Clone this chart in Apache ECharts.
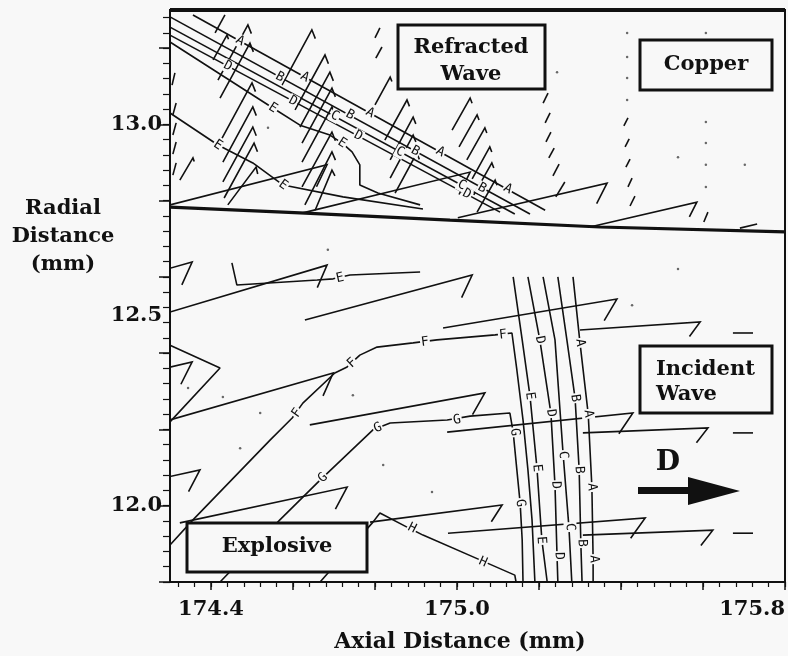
<!DOCTYPE html>
<html><head><meta charset="utf-8">
<script src="https://cdn.jsdelivr.net/npm/echarts@6/dist/echarts.min.js"></script>
<style>html,body{margin:0;padding:0;background:#f8f8f8}#c{width:788px;height:656px}</style>
</head><body><div id="c"></div>
<script>
// ---------- axis ticks / labels ----------
const xMajorTicks = [174.4,174.6,174.8,175.0,175.2,175.4,175.6,175.8];
const xMinorTicks = [174.32,174.36,174.40,174.44,174.48,174.52,174.56,174.60,174.64,174.68,174.72,174.76,174.80,174.84,174.88,174.92,174.96,175.00,175.04,175.08,175.12,175.16,175.20,175.24,175.28,175.32,175.36,175.40,175.44,175.48,175.52,175.56,175.60,175.64,175.68,175.72,175.76,175.80];
const xLabelValues = [174.4,175.0,175.8];
const yMajorTicks = [11.8,12.0,12.2,12.4,12.6,12.8,13.0,13.2];
const yMinorTicks = [11.80,11.84,11.88,11.92,11.96,12.00,12.04,12.08,12.12,12.16,12.20,12.24,12.28,12.32,12.36,12.40,12.44,12.48,12.52,12.56,12.60,12.64,12.68,12.72,12.76,12.80,12.84,12.88,12.92,12.96,13.00,13.04,13.08,13.12,13.16,13.20,13.24,13.28];
const yLabelValues = [12.0,12.5,13.0];

// ---------- copper / explosive interface ----------
const interfaceLine = [[174.300,12.783],[174.617,12.768],[174.983,12.749],[175.349,12.731],[175.800,12.718]];

// ---------- refracted wave contours (copper) ----------
const upperA = [[174.356,13.287],[175.215,12.775]];
const upperB = [[174.300,13.282],[175.178,12.765]];
const upperC = [[174.300,13.255],[175.141,12.765]];
const upperD = [[174.300,13.234],[175.105,12.770]];
const upperE = [[174.300,13.216],[174.551,13.043],[174.617,12.998],[174.690,12.972],[174.720,12.951],[174.744,12.928],[174.763,12.894],[174.763,12.841],[174.807,12.820],[174.910,12.789]];
const upperE2 = [[174.300,13.030],[174.417,12.946],[174.502,12.899],[174.576,12.841],[174.722,12.810],[174.917,12.778]];

// ---------- explosive contours ----------
const lowerE = [[174.451,12.637],[174.463,12.579],[174.659,12.592],[174.698,12.595],[174.739,12.605],[174.910,12.613]];
const lowerF = [[174.300,11.897],[174.356,11.963],[174.544,12.172],[174.598,12.230],[174.624,12.269],[174.702,12.348],[174.732,12.364],[174.763,12.395],[174.805,12.416],[174.893,12.427],[174.951,12.435],[175.093,12.448],[175.134,12.453],[175.146,12.356],[175.161,12.225],[175.173,12.094],[175.183,11.963],[175.190,11.800]];
const lowerF2 = [[174.300,12.421],[174.422,12.361],[174.300,12.220]];
const lowerG = [[174.422,11.800],[174.568,11.963],[174.666,12.067],[174.795,12.199],[174.837,12.217],[174.976,12.225],[175.032,12.235],[175.129,12.243],[175.137,12.193],[175.146,12.094],[175.154,12.007],[175.159,11.910],[175.161,11.800]];
const lowerH = [[174.666,11.800],[174.795,11.957],[174.812,11.981],[174.878,11.944],[174.917,11.923],[175.056,11.858],[175.141,11.818],[175.144,11.800]];

// ---------- incident wave contours ----------
const waveE = [[175.137,12.600],[175.159,12.435],[175.178,12.288],[175.195,12.099],[175.207,11.910],[175.220,11.800]];
const waveD = [[175.173,12.600],[175.202,12.435],[175.229,12.243],[175.239,12.054],[175.244,11.868],[175.246,11.800]];
const waveC = [[175.210,12.600],[175.239,12.435],[175.259,12.133],[175.273,11.944],[175.280,11.800]];
const waveB = [[175.246,12.600],[175.268,12.435],[175.288,12.282],[175.298,12.094],[175.302,11.902],[175.305,11.800]];
const waveA = [[175.283,12.600],[175.300,12.427],[175.320,12.241],[175.329,12.049],[175.332,11.860],[175.332,11.800]];

// ---------- contour labels [x, y, letter] ----------
const labelsUpperA = [[174.471,13.219,'A'],[174.629,13.124,'A'],[174.788,13.030,'A'],[174.959,12.928,'A'],[175.124,12.831,'A']];
const labelsUpperB = [[174.568,13.124,'B'],[174.739,13.025,'B'],[174.898,12.930,'B'],[175.061,12.833,'B']];
const labelsUpperC = [[174.702,13.022,'C'],[174.861,12.928,'C'],[175.012,12.841,'C']];
const labelsUpperD = [[174.441,13.153,'D'],[174.600,13.061,'D'],[174.759,12.970,'D'],[175.024,12.817,'D']];
const labelsUpperE = [[174.551,13.043,'E'],[174.720,12.951,'E']];
const labelsUpperE2 = [[174.417,12.946,'E'],[174.576,12.841,'E']];
const labelsLowerE = [[174.715,12.597,'E']];
const labelsLowerF = [[174.610,12.243,'F'],[174.744,12.374,'F'],[174.922,12.429,'F'],[175.112,12.448,'F']];
const labelsLowerG = [[174.673,12.073,'G'],[174.807,12.204,'G'],[175.000,12.225,'G'],[175.141,12.193,'G'],[175.154,12.007,'G']];
const labelsLowerH = [[174.890,11.941,'H'],[175.063,11.852,'H']];
const labelsWaveE = [[175.178,12.288,'E'],[175.195,12.099,'E'],[175.205,11.910,'E']];
const labelsWaveD = [[175.202,12.435,'D'],[175.229,12.243,'D'],[175.241,12.054,'D'],[175.249,11.868,'D']];
const labelsWaveC = [[175.259,12.133,'C'],[175.276,11.944,'C']];
const labelsWaveB = [[175.288,12.282,'B'],[175.298,12.094,'B'],[175.305,11.902,'B']];
const labelsWaveA = [[175.300,12.427,'A'],[175.320,12.241,'A'],[175.329,12.049,'A'],[175.334,11.860,'A']];

// ---------- velocity vectors [xTail, yTail, xHead, yHead] ----------
const vectorsCopper = [
 [174.305,13.103,174.312,13.135],[174.307,13.025,174.315,13.056],[174.307,12.972,174.315,13.004],[174.307,12.922,174.315,12.954],[174.307,12.867,174.315,12.899],[174.324,12.854,174.356,12.912],
 [174.410,13.240,174.434,13.287],[174.405,13.169,174.439,13.234],
 [174.417,13.116,174.490,13.261],[174.422,13.069,174.495,13.213],[174.427,12.964,174.500,13.109],[174.429,12.901,174.502,13.046],[174.429,12.849,174.502,12.993],[174.432,12.807,174.505,12.951],[174.441,12.789,174.510,12.888],
 [174.573,13.103,174.646,13.248],[174.605,13.038,174.678,13.182],[174.617,12.993,174.690,13.137],[174.622,12.951,174.695,13.095],[174.622,12.901,174.695,13.046],[174.622,12.836,174.695,12.980],[174.629,12.789,174.695,12.928],[174.654,12.775,174.695,12.880],
 [174.800,13.227,174.812,13.253],[174.802,13.174,174.817,13.203],[174.800,13.051,174.837,13.124],[174.824,12.959,174.878,13.064],[174.837,12.907,174.893,13.019],[174.837,12.859,174.893,12.972],[174.849,12.820,174.902,12.925],
 [174.988,12.985,175.032,13.069],[175.005,12.941,175.049,13.025],[175.024,12.907,175.068,12.991],[175.037,12.857,175.080,12.941],[175.041,12.815,175.085,12.899],[175.049,12.770,175.093,12.854],
 [175.210,13.056,175.222,13.082],[175.215,13.004,175.227,13.030],[175.217,12.954,175.229,12.980],[175.224,12.912,175.237,12.938],[175.234,12.865,175.249,12.896],[175.241,12.810,175.263,12.849],
 [175.407,12.996,175.417,13.017],[175.410,12.941,175.420,12.962],[175.412,12.888,175.422,12.909],[175.417,12.836,175.427,12.859],[175.422,12.786,175.434,12.812],
 [175.602,12.744,175.612,12.770],
 [174.300,12.789,174.683,12.894],[174.624,12.768,175.032,12.875],[175.002,12.755,175.366,12.846],[175.324,12.731,175.585,12.796],[175.690,12.728,175.732,12.739]
];
const vectorsExplosive = [
 [173.963,12.521,174.354,12.639],[174.300,12.508,174.683,12.631],[174.629,12.487,175.037,12.605],[174.966,12.466,175.390,12.542],[175.300,12.461,175.593,12.482],[175.673,12.453,175.722,12.453],
 [173.959,12.277,174.354,12.377],[174.300,12.225,174.698,12.348],[174.641,12.212,175.068,12.296],[174.976,12.193,175.429,12.243],[175.307,12.191,175.612,12.204],[175.673,12.191,175.722,12.191],
 [173.983,12.002,174.373,12.094],[174.324,11.955,174.732,12.049],[174.788,11.957,175.110,12.002],[174.978,11.928,175.459,11.968],[175.307,11.923,175.624,11.936],[175.673,11.928,175.722,11.928]
];
const stillPoints = [
 [175.415,13.240],[175.415,13.177],[175.415,13.122],[175.415,13.064],[175.607,13.240],[175.607,13.006],[175.607,12.951],[175.607,12.894],[175.607,12.836],
 [175.539,12.914],[175.702,12.894],[175.244,13.137],[174.539,12.991],[174.685,12.671],[174.429,12.285],[174.344,12.309],[174.520,12.243],[174.746,12.290],
 [175.427,12.526],[175.539,12.621],[174.471,12.151],[174.820,12.107],[174.939,12.036]
];

// ---------- rendering ----------
const INK = '#111';
const BG = '#f8f8f8';
const chart = echarts.init(document.getElementById('c'), null, {renderer:'canvas'});

function lineSeries(data, width){
  return {type:'line', data:data, symbol:'none', showSymbol:false, silent:true, z:3,
          lineStyle:{color:INK, width:width}, animation:false};
}
function vectorSeries(data){
  return {type:'custom', data:data, clip:true, silent:true, z:3, animation:false,
    encode:{x:[0,2], y:[1,3]},
    renderItem:function(params, api){
      const p0 = api.coord([api.value(0), api.value(1)]);
      const p1 = api.coord([api.value(2), api.value(3)]);
      const dx = p0[0]-p1[0], dy = p0[1]-p1[1];
      const len = Math.hypot(dx, dy);
      const pts = [p0, p1];
      if (len > 24) {
        const hl = Math.min(25, 0.15*len);
        const a = Math.atan2(dy, dx) - 50*Math.PI/180;
        pts.push([p1[0]+hl*Math.cos(a), p1[1]+hl*Math.sin(a)]);
      }
      const cs = params.coordSys;
      return {type:'group', clipPath:{type:'rect', shape:{x:cs.x, y:cs.y, width:cs.width, height:cs.height}},
        children:[{type:'polyline', shape:{points:pts}, style:{stroke:INK, lineWidth:1.6, fill:null}}]};
    }};
}
function distSeg(p, a, b){
  const vx=b[0]-a[0], vy=b[1]-a[1];
  const l2 = vx*vx+vy*vy || 1;
  let t = ((p[0]-a[0])*vx + (p[1]-a[1])*vy)/l2;
  t = Math.max(0, Math.min(1, t));
  return Math.hypot(p[0]-(a[0]+t*vx), p[1]-(a[1]+t*vy));
}
function labelSeries(labels, line){
  return {type:'custom', data:labels.map(l=>[l[0], l[1]]), silent:true, z:5, animation:false,
    renderItem:function(params, api){
      const p = api.coord([api.value(0), api.value(1)]);
      let best = Infinity, ang = 0;
      for (let i=0;i<line.length-1;i++){
        const a = api.coord(line[i]), b = api.coord(line[i+1]);
        const d = distSeg(p, a, b);
        if (d < best){ best = d; ang = Math.atan2(b[1]-a[1], b[0]-a[0]); }
      }
      if (ang > Math.PI/2) ang -= Math.PI;
      if (ang <= -Math.PI/2) ang += Math.PI;
      return {type:'text', x:p[0], y:p[1], rotation:-ang,
        style:{text:labels[params.dataIndex][2], fill:INK, font:'13px "DejaVu Sans Mono"',
               align:'center', verticalAlign:'middle', textAlign:'center', textVerticalAlign:'middle',
               backgroundColor:BG, padding:[0,1]}};
    }};
}

const contourSets = [upperA, upperB, upperC, upperD, upperE, upperE2, lowerE, lowerF, lowerF2, lowerG, lowerH, waveA, waveB, waveC, waveD, waveE];
const labelSets = [[labelsUpperA,upperA],[labelsUpperB,upperB],[labelsUpperC,upperC],[labelsUpperD,upperD],[labelsUpperE,upperE],[labelsUpperE2,upperE2],
  [labelsLowerE,lowerE],[labelsLowerF,lowerF],[labelsLowerG,lowerG],[labelsLowerH,lowerH],
  [labelsWaveA,waveA],[labelsWaveB,waveB],[labelsWaveC,waveC],[labelsWaveD,waveD],[labelsWaveE,waveE]];

const series = [];
contourSets.forEach(c => series.push(lineSeries(c, 1.6)));
series.push(lineSeries(interfaceLine, 3.2));
series.push(vectorSeries(vectorsCopper));
series.push(vectorSeries(vectorsExplosive));
series.push({type:'scatter', data:stillPoints, symbolSize:2.5, itemStyle:{color:'#444'}, silent:true, z:3});
labelSets.forEach(s => series.push(labelSeries(s[0], s[1])));

const serif = '"DejaVu Serif", "Liberation Serif", serif';
function txt(x, y, text, size, align, lh){
  return {type:'text', x:x, y:y, z:100,
    style:{text:text, fill:INK, font:'bold '+size+'px '+serif, align:align||'center', textAlign:align||'center',
           verticalAlign:'middle', textVerticalAlign:'middle', lineHeight:lh||size}};
}
function box(x, y, w, h){
  return {type:'rect', z:99, shape:{x:x, y:y, width:w, height:h}, style:{fill:BG, stroke:INK, lineWidth:3}};
}

const option = {
  backgroundColor: BG,
  animation: false,
  grid: {left:170, top:10, width:615, height:572, show:true, borderColor:INK, borderWidth:2, backgroundColor:'transparent'},
  xAxis: [
    {type:'value', min:174.3, max:175.8, position:'bottom',
     axisLine:{show:true, onZero:false, lineStyle:{color:INK, width:2}}, splitLine:{show:false},
     axisTick:{show:true, customValues:xMajorTicks, length:8, lineStyle:{color:INK, width:1.5}},
     axisLabel:{show:true, customValues:xLabelValues, formatter:v=>Number(v).toFixed(1), color:INK,
                fontFamily:'DejaVu Serif', fontWeight:'bold', fontSize:21, margin:17, alignMaxLabel:'right'}},
    {type:'value', min:174.3, max:175.8, position:'bottom',
     axisLine:{show:false, onZero:false}, splitLine:{show:false},
     axisTick:{show:true, customValues:xMinorTicks, length:5, lineStyle:{color:INK, width:1.2}},
     axisLabel:{show:false}}
  ],
  yAxis: [
    {type:'value', min:11.8, max:13.3, position:'left',
     axisLine:{show:true, onZero:false, lineStyle:{color:INK, width:2}}, splitLine:{show:false},
     axisTick:{show:true, customValues:yMajorTicks, length:11, lineStyle:{color:INK, width:1.5}},
     axisLabel:{show:true, customValues:yLabelValues, formatter:v=>Number(v).toFixed(1), color:INK,
                fontFamily:'DejaVu Serif', fontWeight:'bold', fontSize:21, margin:8}},
    {type:'value', min:11.8, max:13.3, position:'left',
     axisLine:{show:false, onZero:false}, splitLine:{show:false},
     axisTick:{show:true, customValues:yMinorTicks, length:7, lineStyle:{color:INK, width:1.2}},
     axisLabel:{show:false}}
  ],
  series: series,
  graphic: [
    {type:'line', z:98, shape:{x1:170, y1:10, x2:785, y2:10}, style:{stroke:INK, lineWidth:4}},
    box(398, 25, 147, 64), txt(471, 61, 'Refracted\nWave', 21, 'center', 27),
    box(640, 40, 132, 50), txt(706, 65, 'Copper', 21),
    box(640, 346, 132, 67), txt(656, 382, 'Incident\nWave', 21, 'left', 25),
    box(187, 523, 180, 49), txt(277, 547, 'Explosive', 21),
    txt(668, 463, 'D', 28),
    {type:'rect', z:100, shape:{x:638, y:487, width:52, height:7}, style:{fill:INK}},
    {type:'polygon', z:100, shape:{points:[[688,477],[740,491],[688,505]]}, style:{fill:INK}},
    txt(63, 237, 'Radial\nDistance\n(mm)', 21, 'center', 28),
    txt(460, 642, 'Axial Distance (mm)', 22)
  ]
};
chart.setOption(option);
</script></body></html>
